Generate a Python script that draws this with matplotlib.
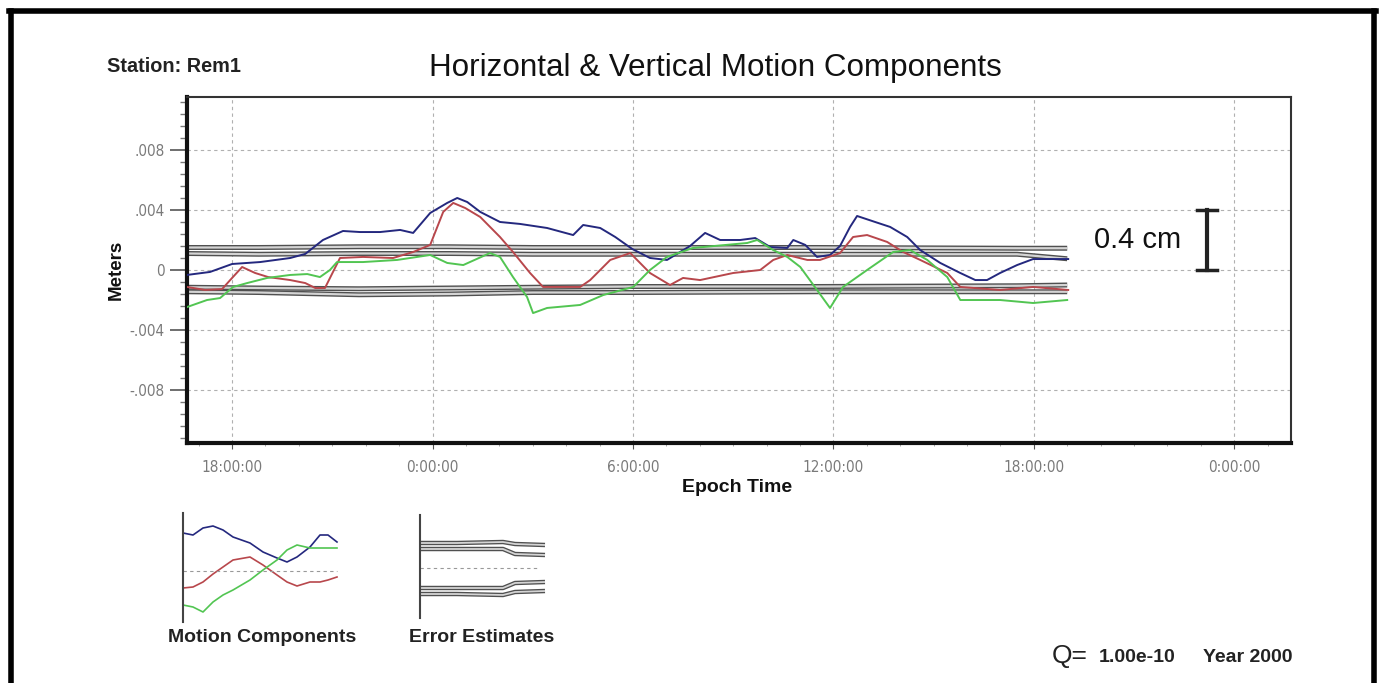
import matplotlib
matplotlib.use("Agg")
import matplotlib.pyplot as plt
from matplotlib.lines import Line2D
from matplotlib import font_manager

plt.rcParams['font.family'] = ['Liberation Sans', 'DejaVu Sans']

W, H = 1380, 683

# hours after 18:00 on day one, values in mm
blue_t = [-1.35, -0.66, 0.0, 0.84, 1.74, 2.19, 2.72, 3.32, 3.83, 4.43, 5.03, 5.42, 5.93, 6.44,
          6.74, 7.04, 7.43, 8.02, 8.62, 9.43, 10.21, 10.51, 11.02, 11.47, 11.98, 12.51, 13.02,
          13.71, 14.16, 14.61, 15.21, 15.66, 16.11, 16.62, 16.80, 17.16, 17.51, 17.90, 18.20,
          18.50, 18.71, 19.25, 19.70, 20.21, 20.60, 21.20, 21.80, 22.25, 22.60, 22.99, 23.50,
          23.98, 25.03]
blue_v = [-0.33, -0.13, 0.40, 0.53, 0.80, 1.07, 2.0, 2.6, 2.53, 2.53, 2.67, 2.47, 3.8, 4.47,
          4.8, 4.53, 3.87, 3.2, 3.07, 2.8, 2.33, 3.0, 2.8, 2.2, 1.4, 0.8, 0.67,
          1.6, 2.47, 2.0, 2.0, 2.13, 1.53, 1.47, 2.0, 1.67, 0.87, 1.0, 1.6,
          2.87, 3.6, 3.2, 2.87, 2.2, 1.33, 0.47, -0.2, -0.67, -0.67, -0.2, 0.33,
          0.73, 0.73]

red_t = [-1.35, -0.81, -0.30, 0.0, 0.30, 0.69, 1.08, 1.74, 2.19, 2.49, 2.78, 3.23, 3.92, 4.82,
         5.42, 5.93, 6.32, 6.62, 6.98, 7.43, 8.02, 8.41, 8.92, 9.31, 9.97, 10.42, 10.72, 11.32,
         11.92, 12.51, 13.11, 13.50, 14.01, 15.0, 15.81, 16.20, 16.62, 17.22, 17.60, 18.20,
         18.59, 19.01, 19.61, 20.09, 20.60, 21.41, 21.80, 22.99, 23.98, 25.03]
red_v = [-1.13, -1.33, -1.27, -0.53, 0.2, -0.2, -0.47, -0.67, -0.87, -1.2, -1.2, 0.8, 0.87, 0.8,
         1.2, 1.67, 3.87, 4.47, 4.13, 3.53, 2.2, 1.2, -0.2, -1.13, -1.13, -1.13, -0.67, 0.67,
         1.13, -0.2, -1.0, -0.53, -0.67, -0.2, 0.0, 0.67, 1.0, 0.67, 0.67, 1.13,
         2.2, 2.33, 1.87, 1.2, 0.67, -0.2, -1.13, -1.33, -1.13, -1.33]

green_t = [-1.35, -0.75, -0.36, 0.03, 0.45, 1.05, 1.74, 2.25, 2.63, 2.93, 3.14, 3.92, 4.94, 5.93,
           6.44, 6.92, 7.72, 8.02, 8.41, 8.83, 9.01, 9.43, 10.42, 11.11, 12.01, 12.51, 13.02,
           13.80, 15.42, 15.72, 16.20, 16.62, 17.01, 17.51, 17.90, 18.29, 19.01, 19.79, 20.30,
           20.81, 21.41, 21.80, 22.99, 23.98, 25.0]
green_v = [-2.47, -2.0, -1.87, -1.13, -0.87, -0.53, -0.33, -0.27, -0.47, 0.0, 0.53, 0.53, 0.67, 1.0,
           0.47, 0.33, 1.13, 0.87, -0.47, -1.8, -2.87, -2.53, -2.33, -1.67, -1.13, 0.0, 0.87,
           1.47, 1.8, 2.0, 1.33, 0.87, 0.2, -1.33, -2.53, -1.13, 0.0, 1.2, 1.33,
           0.67, -0.47, -2.0, -2.0, -2.2, -2.0]

# error estimates (mm)
err_t = [-1.35, 0.8, 3.8, 6.5, 9.0, 12.0, 17.5, 23.5, 25.0]
err_up_a = [1.50, 1.50, 1.55, 1.55, 1.50, 1.50, 1.50, 1.45, 1.45]
err_up_b = [1.10, 1.05, 1.10, 1.10, 1.05, 1.05, 1.05, 1.05, 0.75]
err_lo_a = [-1.45, -1.50, -1.65, -1.60, -1.50, -1.50, -1.45, -1.45, -1.45]
err_lo_b = [-1.15, -1.20, -1.25, -1.20, -1.15, -1.10, -1.10, -1.05, -1.00]

x_ticks = [0, 6, 12, 18, 24, 30]
x_labels = ['18:00:00', '0:00:00', '6:00:00', '12:00:00', '18:00:00', '0:00:00']
y_ticks = [0.008, 0.004, 0.0, -0.004, -0.008]
y_labels = ['.008', '.004', '0', '-.004', '-.008']

# small legend panels (arbitrary units)
mini_x = [0, 10, 20, 30, 40, 50, 67, 80, 94, 104, 114, 127, 137, 145, 154]
mini_blue = [89, 87, 94, 96, 92, 85, 79, 70, 64, 60, 65, 75, 87, 87, 80]
mini_red = [34, 35, 40, 48, 55, 62, 65, 57, 47, 40, 36, 40, 40, 42, 45]
mini_green = [17, 15, 10, 20, 27, 32, 42, 52, 62, 72, 77, 74, 74, 74, 74]
mini_err_x = [0, 37, 83, 95, 125]
mini_up_a = [75, 75, 76, 74, 73]
mini_up_b = [69, 69, 69, 64, 63]
mini_lo_a = [24, 24, 23, 26, 27]
mini_lo_b = [30, 30, 30, 35, 36]

BLUE, RED, GREEN = '#24287e', '#b8474c', '#52c552'


def narrow_font():
    # tick labels in the original are a thin condensed face
    try:
        font_manager.findfont('Liberation Sans Narrow', fallback_to_default=False)
        return dict(family='Liberation Sans Narrow')
    except Exception:
        return dict(family='DejaVu Sans', stretch='condensed')


def hollow(ax, x, y, outer=3.6, inner=1.6):
    ax.plot(x, y, color='#505050', lw=outer, solid_capstyle='butt', zorder=2)
    ax.plot(x, y, color='#d4d4d4', lw=inner, solid_capstyle='butt', zorder=2.1)


fig = plt.figure(figsize=(W / 100, H / 100), dpi=100)

ax = fig.add_axes([187 / W, 1 - 443 / H, (1291 - 187) / W, (443 - 97) / H])
mm = lambda v: [a / 1000 for a in v]

hollow(ax, err_t, mm(err_up_a))
hollow(ax, err_t, mm(err_up_b))
hollow(ax, err_t, mm(err_lo_a))
hollow(ax, err_t, mm(err_lo_b))
ax.plot(blue_t, mm(blue_v), color=BLUE, lw=1.4, zorder=3)
ax.plot(red_t, mm(red_v), color=RED, lw=1.4, zorder=3)
ax.plot(green_t, mm(green_v), color=GREEN, lw=1.4, zorder=3)

ax.set_xlim(-1.35, 31.7)
ax.set_ylim(-0.01153, 0.01153)
nf = narrow_font()
ax.set_xticks(x_ticks)
ax.set_xticklabels(x_labels, fontsize=11, color='#7a7a7a', **nf)
ax.set_yticks(y_ticks)
ax.set_yticklabels(y_labels, fontsize=11, color='#7a7a7a', **nf)
ax.set_yticks([i * 0.0008 for i in range(-14, 15)], minor=True)
ax.set_xticks(range(-1, 32), minor=True)
ax.tick_params(axis='both', which='major', color='#555')
ax.tick_params(axis='y', which='major', length=12, width=1.2, pad=4)
ax.tick_params(axis='y', which='minor', length=5, width=1.0, color='#777')
ax.tick_params(axis='x', which='major', length=4, pad=8)
ax.tick_params(axis='x', which='minor', length=2, color='#999')
ax.grid(True, which='major', color='#b0b0b0', lw=0.8, linestyle=(0, (3, 3)))
ax.set_axisbelow(True)
for s in ['left', 'bottom']:
    ax.spines[s].set_linewidth(3.0)
    ax.spines[s].set_color('#111')
for s in ['top', 'right']:
    ax.spines[s].set_linewidth(1.5)
    ax.spines[s].set_color('#333')

# scale bar
ax.plot([29.19, 29.19], [0.0, 0.004], color='#222', lw=3, zorder=4)
ax.plot([28.89, 29.49], [0.004, 0.004], color='#222', lw=2.5, zorder=4)
ax.plot([28.89, 29.49], [0.0, 0.0], color='#222', lw=2.5, zorder=4)
ax.text(27.1, 0.002, '0.4 cm', fontsize=21, ha='center', va='center', color='#111')

# motion components mini panel
ax1 = fig.add_axes([183 / W, 1 - 622 / H, 157 / W, 109 / H])
ax1.plot(mini_x, mini_blue, color=BLUE, lw=1.2)
ax1.plot(mini_x, mini_red, color=RED, lw=1.2)
ax1.plot(mini_x, mini_green, color=GREEN, lw=1.2)
ax1.plot([0, 154], [51, 51], color='#999', lw=0.8, linestyle=(0, (3, 3)))
ax1.set_xlim(0, 157)
ax1.set_ylim(0, 109)

# error estimates mini panel
ax2 = fig.add_axes([420 / W, 1 - 618 / H, 130 / W, 103 / H])
for yy in (mini_up_a, mini_up_b, mini_lo_a, mini_lo_b):
    hollow(ax2, mini_err_x, yy, outer=3.2, inner=1.3)
ax2.plot([0, 120], [50, 50], color='#999', lw=0.8, linestyle=(0, (3, 3)))
ax2.set_xlim(0, 130)
ax2.set_ylim(0, 103)

for a in (ax1, ax2):
    a.set_xticks([])
    a.set_yticks([])
    for s in ['top', 'right', 'bottom']:
        a.spines[s].set_visible(False)
    a.spines['left'].set_linewidth(1.5)
    a.spines['left'].set_color('#444')
    a.patch.set_alpha(0)

# texts
fig.text(715 / W, 1 - 68 / H, 'Horizontal & Vertical Motion Components',
         fontsize=22.6, ha='center', va='center', color='#111')
fig.text(107 / W, 1 - 66 / H, 'Station: Rem1', fontsize=14.3, fontweight='bold',
         ha='left', va='center', color='#222')
fig.text(116 / W, 1 - 270 / H, 'Meters', fontsize=13.5, fontweight='bold', rotation=90,
         ha='center', va='center', color='#111')
fig.text(737 / W, 1 - 487 / H, 'Epoch Time', fontsize=14, fontweight='bold',
         ha='center', va='center', color='#111')
fig.text(262 / W, 1 - 637 / H, 'Motion Components', fontsize=14, fontweight='bold',
         ha='center', va='center', color='#222')
fig.text(482 / W, 1 - 637 / H, 'Error Estimates', fontsize=14, fontweight='bold',
         ha='center', va='center', color='#222')
fig.text(1052 / W, 1 - 656 / H, 'Q=', fontsize=19, ha='left', va='center', color='#222')
fig.text(1099 / W, 1 - 657 / H, '1.00e-10', fontsize=14, fontweight='bold',
         ha='left', va='center', color='#222')
fig.text(1203 / W, 1 - 657 / H, 'Year 2000', fontsize=14, fontweight='bold',
         ha='left', va='center', color='#222')

# outer frame
frame_kw = dict(color='#000', lw=4, transform=fig.transFigure)
fig.add_artist(Line2D([10.5 / W, 10.5 / W], [-0.05, 1 - 11 / H], **frame_kw))
fig.add_artist(Line2D([1374 / W, 1374 / W], [-0.05, 1 - 11 / H], **frame_kw))
fig.add_artist(Line2D([8.5 / W, 1376 / W], [1 - 11 / H, 1 - 11 / H], **frame_kw))

fig.savefig('out.png', dpi=100)
